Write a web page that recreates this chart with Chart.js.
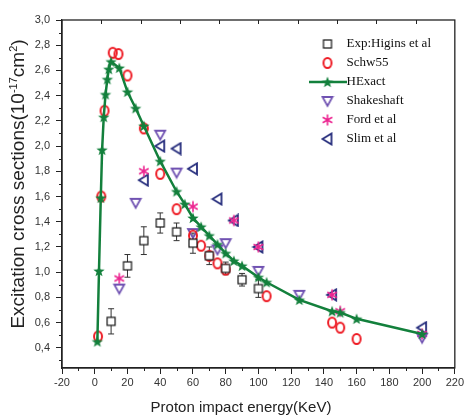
<!DOCTYPE html>
<html>
<head>
<meta charset="utf-8">
<script src="https://cdn.jsdelivr.net/npm/chart.js@4"></script>
<style>
	html, body { margin: 0; padding: 0; background: #fff; }
</style>
</head>
<body>
<canvas id="chart" width="466" height="419"></canvas>
<script>
// Experimental points (Higgins et al) with their error bars
let expX = [10, 20, 30, 40, 50, 60, 70, 80, 90, 100];
let expY = [0.61, 1.05, 1.25, 1.39, 1.32, 1.23, 1.13, 1.03, 0.94, 0.87];
let expErr = [0.10, 0.09, 0.11, 0.08, 0.07, 0.08, 0.07, 0.05, 0.05, 0.07];

let schwX = [2, 4, 6, 11, 14.5, 20, 30, 40, 50, 60, 65, 70, 75, 80, 105, 145, 150, 160];
let schwY = [0.49, 1.60, 2.28, 2.74, 2.73, 2.56, 2.14, 1.78, 1.50, 1.29, 1.21, 1.13, 1.07, 1.02, 0.81, 0.60, 0.56, 0.47];

let hexX = [1.6, 2.6, 3.7, 4.5, 5.5, 6.6, 7.7, 8.6, 10, 15, 20, 25, 30, 40, 50, 55, 60, 65, 70, 75, 80, 85, 90, 100, 105, 125, 145, 150, 160, 200];
let hexY = [0.45, 1.01, 1.59, 1.97, 2.23, 2.41, 2.53, 2.61, 2.67, 2.62, 2.43, 2.30, 2.16, 1.88, 1.64, 1.54, 1.43, 1.36, 1.29, 1.22, 1.15, 1.09, 1.05, 0.96, 0.92, 0.78, 0.69, 0.68, 0.63, 0.51];

let shakeX = [15, 25, 40, 50, 60, 75, 80, 100, 125, 200];
let shakeY = [0.87, 1.55, 2.09, 1.79, 1.31, 1.18, 1.23, 1.01, 0.82, 0.48];

let fordX = [15, 30, 60, 85, 100, 145, 150, 200];
let fordY = [0.95, 1.80, 1.52, 1.41, 1.20, 0.82, 0.69, 0.51];

let slimX = [30, 40, 50, 60, 75, 85, 100, 145, 200];
let slimY = [1.73, 2.00, 1.98, 1.82, 1.58, 1.41, 1.20, 0.82, 0.56];

let yTicks = [0.4, 0.6, 0.8, 1.0, 1.2, 1.4, 1.6, 1.8, 2.0, 2.2, 2.4, 2.6, 2.8, 3.0];

const GREEN = '#13803c';

function pairs(xs, ys) {
	return xs.map((x, i) => ({x: x, y: ys[i]}));
}

// small canvases used as point styles
function marker(w, h, draw) {
	let c = document.createElement('canvas');
	c.width = w;
	c.height = h;
	let ctx = c.getContext('2d');
	draw(ctx, w / 2, h / 2);
	return c;
}

function starPath(ctx, cx, cy, ro, ri) {
	ctx.beginPath();
	for (let k = 0; k < 10; k++) {
		let r = k % 2 ? ri : ro;
		let a = -Math.PI / 2 + k * Math.PI / 5;
		ctx.lineTo(cx + r * Math.cos(a), cy + r * Math.sin(a));
	}
	ctx.closePath();
}

let squareMark = marker(12, 12, (ctx) => {
	ctx.fillStyle = '#fff';
	ctx.fillRect(2, 2, 8, 8);
	ctx.strokeStyle = '#111';
	ctx.lineWidth = 1.2;
	ctx.strokeRect(2, 2, 8, 8);
});

let circleMark = marker(14, 14, (ctx, cx, cy) => {
	ctx.strokeStyle = '#ee1c25';
	ctx.lineWidth = 2;
	ctx.beginPath();
	ctx.ellipse(cx, cy, 4, 5, 0, 0, Math.PI * 2);
	ctx.stroke();
});

let starMark = marker(16, 16, (ctx, cx, cy) => {
	ctx.fillStyle = GREEN;
	starPath(ctx, cx, cy + 0.5, 6, 2.5);
	ctx.fill();
});

let starLineMark = marker(38, 16, (ctx, cx, cy) => {
	ctx.strokeStyle = GREEN;
	ctx.lineWidth = 2.5;
	ctx.beginPath();
	ctx.moveTo(0, cy);
	ctx.lineTo(38, cy);
	ctx.stroke();
	ctx.fillStyle = GREEN;
	starPath(ctx, cx, cy + 0.5, 6, 2.5);
	ctx.fill();
});

let triDownMark = marker(14, 14, (ctx, cx, cy) => {
	ctx.strokeStyle = '#7052b2';
	ctx.lineWidth = 1.8;
	ctx.beginPath();
	ctx.moveTo(cx - 5, cy - 4);
	ctx.lineTo(cx + 5, cy - 4);
	ctx.lineTo(cx, cy + 5);
	ctx.closePath();
	ctx.stroke();
});

let asteriskMark = marker(14, 14, (ctx, cx, cy) => {
	ctx.strokeStyle = '#ec2490';
	ctx.lineWidth = 1.6;
	ctx.beginPath();
	for (let a of [90, 30, 150]) {
		let r = a * Math.PI / 180;
		ctx.moveTo(cx - 5.5 * Math.cos(r), cy - 5.5 * Math.sin(r));
		ctx.lineTo(cx + 5.5 * Math.cos(r), cy + 5.5 * Math.sin(r));
	}
	ctx.stroke();
});

let triLeftMark = marker(14, 14, (ctx, cx, cy) => {
	ctx.strokeStyle = '#252c7c';
	ctx.lineWidth = 1.8;
	ctx.beginPath();
	ctx.moveTo(cx - 5, cy);
	ctx.lineTo(cx + 4, cy - 5.5);
	ctx.lineTo(cx + 4, cy + 5.5);
	ctx.closePath();
	ctx.stroke();
});

// puts the legend inside the upper right of the plot
let legendSpot = {
	id: 'legendSpot',
	afterLayout(chart) {
		let lg = chart.legend;
		lg.left = 309;
		lg.top = 31.5;
		lg.right = 455;
		lg.bottom = 220;
		lg.width = lg.right - lg.left;
		lg.height = lg.bottom - lg.top;
	}
};

// error bars, box frame, minor ticks and axis titles
let decorations = {
	id: 'decorations',
	beforeDatasetsDraw(chart) {
		let ctx = chart.ctx;
		let sx = chart.scales.x;
		let sy = chart.scales.y;
		ctx.save();
		ctx.strokeStyle = '#333';
		ctx.lineWidth = 1;
		expX.forEach((v, i) => {
			let px = sx.getPixelForValue(v);
			let top = sy.getPixelForValue(expY[i] + expErr[i]);
			let bot = sy.getPixelForValue(expY[i] - expErr[i]);
			ctx.beginPath();
			ctx.moveTo(px, top);
			ctx.lineTo(px, bot);
			ctx.moveTo(px - 3, top);
			ctx.lineTo(px + 3, top);
			ctx.moveTo(px - 3, bot);
			ctx.lineTo(px + 3, bot);
			ctx.stroke();
		});
		ctx.restore();
	},
	afterDraw(chart) {
		let ctx = chart.ctx;
		let a = chart.chartArea;
		let sx = chart.scales.x;
		let sy = chart.scales.y;
		ctx.save();
		ctx.strokeStyle = '#222';
		ctx.lineWidth = 1.3;
		ctx.strokeRect(a.left, a.top, a.right - a.left, a.bottom - a.top);

		ctx.lineWidth = 1;
		ctx.beginPath();
		// minor ticks on the y axis
		for (let v = 0.3; v < 3.0; v += 0.2) {
			let py = Math.round(sy.getPixelForValue(v)) + 0.5;
			ctx.moveTo(a.left - 3, py);
			ctx.lineTo(a.left, py);
		}
		// minor ticks on the x axis
		for (let v = -10; v < 220; v += 20) {
			let px = Math.round(sx.getPixelForValue(v)) + 0.5;
			ctx.moveTo(px, a.bottom);
			ctx.lineTo(px, a.bottom + 3);
		}
		// inward ticks along the top edge
		for (let v = 4; v < 220; v += 24) {
			let px = Math.round(sx.getPixelForValue(v)) + 0.5;
			ctx.moveTo(px, a.top);
			ctx.lineTo(px, a.top + 4);
		}
		ctx.stroke();

		ctx.fillStyle = '#222';
		ctx.textBaseline = 'alphabetic';

		// x title
		ctx.font = '15px "Liberation Sans", Arial, sans-serif';
		ctx.textAlign = 'center';
		ctx.fillText('Proton impact energy(KeV)', 241, 412);

		// y title with superscripts
		let parts = [
			['Excitation cross sections(10', 19, 0],
			['-17', 11, -7],
			['cm', 19, 0],
			['2', 11, -7],
			[')', 19, 0]
		];
		let total = 0;
		for (let p of parts) {
			ctx.font = p[1] + 'px "Liberation Sans", Arial, sans-serif';
			p.push(ctx.measureText(p[0]).width);
			total += p[3];
		}
		ctx.translate(24, 184);
		ctx.rotate(-Math.PI / 2);
		ctx.textAlign = 'left';
		let cx = -total / 2;
		for (let p of parts) {
			ctx.font = p[1] + 'px "Liberation Sans", Arial, sans-serif';
			ctx.fillText(p[0], cx, p[2]);
			cx += p[3];
		}
		ctx.restore();
	}
};

let tickFont = {family: '"Liberation Sans", Arial, sans-serif', size: 11};

new Chart(document.getElementById('chart'), {
	type: 'scatter',
	data: {
		datasets: [
			{label: 'Exp:Higins et al', data: pairs(expX, expY), pointStyle: squareMark, order: 1},
			{label: 'Schw55', data: pairs(schwX, schwY), pointStyle: circleMark, order: 1},
			{
				label: 'HExact',
				data: pairs(hexX, hexY),
				pointStyle: starMark,
				showLine: true,
				borderColor: GREEN,
				backgroundColor: GREEN,
				borderWidth: 2.5,
				tension: 0,
				order: 0
			},
			{label: 'Shakeshaft', data: pairs(shakeX, shakeY), pointStyle: triDownMark, order: 1},
			{label: 'Ford et al', data: pairs(fordX, fordY), pointStyle: asteriskMark, order: 1},
			{label: 'Slim et al', data: pairs(slimX, slimY), pointStyle: triLeftMark, order: 1}
		]
	},
	options: {
		responsive: false,
		animation: false,
		events: [],
		layout: {padding: {top: 20, right: 11, left: 0, bottom: 0}},
		elements: {point: {radius: 5, hoverRadius: 5}},
		scales: {
			x: {
				type: 'linear',
				min: -20,
				max: 220,
				ticks: {stepSize: 20, color: '#333', font: tickFont, padding: 2, maxRotation: 0, autoSkip: false},
				grid: {drawOnChartArea: false, tickLength: 6, color: '#222'},
				border: {color: '#222', width: 1.3},
				afterFit(s) { s.height = 51; }
			},
			y: {
				type: 'linear',
				min: 0.24,
				max: 3.0,
				afterBuildTicks(s) { s.ticks = yTicks.map(v => ({value: v})); },
				ticks: {
					color: '#333',
					font: tickFont,
					padding: 6,
					callback: v => v.toFixed(1).replace('.', ',')
				},
				grid: {drawOnChartArea: false, tickLength: 6, color: '#222'},
				border: {color: '#222', width: 1.3},
				afterFit(s) { s.width = 62; }
			}
		},
		plugins: {
			tooltip: {enabled: false},
			legend: {
				position: 'chartArea',
				align: 'start',
				labels: {
					usePointStyle: true,
					pointStyleWidth: 25,
					padding: 6,
					color: '#111',
					font: {family: '"Liberation Serif", "Times New Roman", serif', size: 13},
					sort: (a, b) => a.datasetIndex - b.datasetIndex,
					generateLabels(chart) {
						let items = Chart.defaults.plugins.legend.labels.generateLabels(chart);
						for (let item of items) {
							if (item.text === 'HExact') {
								item.pointStyle = starLineMark;
							}
						}
						return items;
					}
				}
			}
		}
	},
	plugins: [legendSpot, decorations]
});
</script>
</body>
</html>
